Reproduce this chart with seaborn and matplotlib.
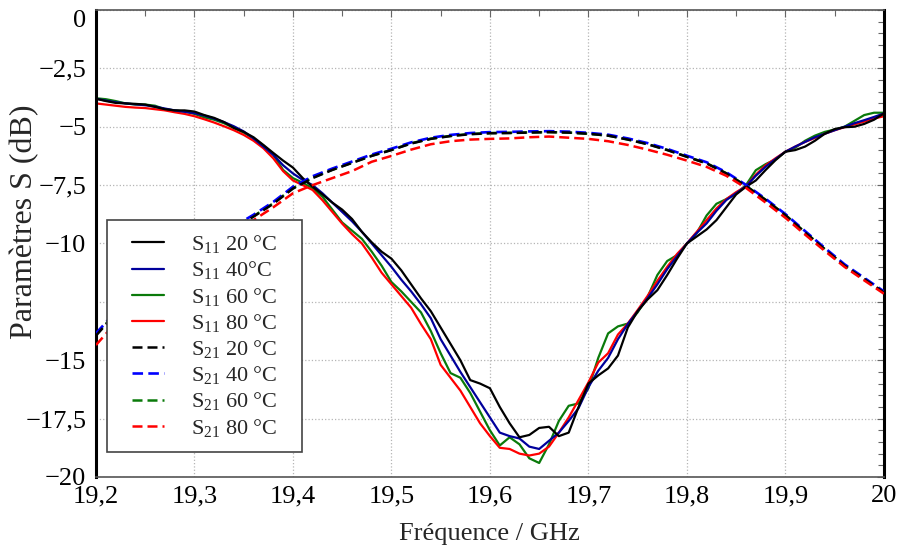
import numpy as np
import pandas as pd
import matplotlib
matplotlib.use("Agg")
import matplotlib.pyplot as plt
import seaborn as sns
from matplotlib.ticker import MultipleLocator
from matplotlib.lines import Line2D
from matplotlib.legend_handler import HandlerLine2D

# ==========================================
# 1. DATA
# ==========================================
freq_s11 = [19.20, 19.21, 19.22, 19.23, 19.24, 19.25, 19.26, 19.27, 19.28, 19.29,
            19.30, 19.31, 19.32, 19.33, 19.34, 19.35, 19.36, 19.37, 19.38, 19.39,
            19.40, 19.41, 19.42, 19.43, 19.44, 19.45, 19.46, 19.47, 19.48, 19.49,
            19.50, 19.51, 19.52, 19.53, 19.54, 19.55, 19.56, 19.57, 19.58, 19.59,
            19.60, 19.61, 19.62, 19.63, 19.64, 19.65, 19.66, 19.67, 19.68, 19.69,
            19.70, 19.71, 19.72, 19.73, 19.74, 19.75, 19.76, 19.77, 19.78, 19.79,
            19.80, 19.81, 19.82, 19.83, 19.84, 19.85, 19.86, 19.87, 19.88, 19.89,
            19.90, 19.91, 19.92, 19.93, 19.94, 19.95, 19.96, 19.97, 19.98, 19.99,
            20.00]

s11_20 = [-3.80, -3.90, -3.98, -4.00, -4.02, -4.05, -4.15, -4.25, -4.30, -4.30,
          -4.35, -4.50, -4.62, -4.80, -5.05, -5.22, -5.45, -5.78, -6.12, -6.45,
          -6.75, -7.20, -7.57, -7.90, -8.25, -8.55, -8.95, -9.50, -9.95, -10.35,
          -10.65, -11.15, -11.75, -12.35, -12.90, -13.60, -14.30, -15.00, -15.85, -16.00,
          -16.20, -17.00, -17.70, -18.30, -18.20, -17.90, -17.85, -18.25, -18.10, -17.00,
          -16.00, -15.65, -15.35, -14.80, -13.60, -12.90, -12.40, -12.00, -11.35, -10.65,
          -10.00, -9.70, -9.40, -9.00, -8.45, -7.90, -7.57, -7.30, -6.85, -6.43,
          -6.07, -6.00, -5.85, -5.60, -5.30, -5.10, -5.02, -5.00, -4.88, -4.70,
          -4.43]

s11_40 = [-3.80, -3.88, -3.95, -4.00, -4.04, -4.08, -4.14, -4.22, -4.30, -4.36,
          -4.42, -4.52, -4.65, -4.80, -4.98, -5.20, -5.50, -5.85, -6.20, -6.65,
          -7.00, -7.28, -7.50, -7.85, -8.25, -8.65, -9.05, -9.50, -10.00, -10.50,
          -11.00, -11.55, -12.05, -12.60, -13.20, -14.10, -14.80, -15.50, -16.15, -16.80,
          -17.45, -18.10, -18.25, -18.35, -18.70, -18.80, -18.45, -18.10, -17.60, -17.05,
          -16.15, -15.45, -14.90, -14.10, -13.45, -12.90, -12.35, -11.75, -11.10, -10.55,
          -10.00, -9.55, -9.14, -8.60, -8.14, -7.85, -7.55, -7.10, -6.71, -6.38,
          -6.07, -5.85, -5.65, -5.45, -5.30, -5.15, -5.00, -4.85, -4.72, -4.58,
          -4.43]

s11_60 = [-3.78, -3.82, -3.90, -4.00, -4.05, -4.05, -4.10, -4.25, -4.30, -4.35,
          -4.45, -4.60, -4.70, -4.85, -5.05, -5.25, -5.50, -5.80, -6.20, -6.85,
          -7.20, -7.40, -7.64, -8.00, -8.55, -9.10, -9.45, -9.80, -10.35, -10.95,
          -11.65, -12.05, -12.50, -12.95, -13.75, -14.70, -15.55, -15.75, -16.40, -17.20,
          -18.00, -18.65, -18.30, -18.60, -19.20, -19.40, -18.60, -17.60, -16.95, -16.85,
          -16.20, -14.90, -13.85, -13.55, -13.43, -12.95, -12.30, -11.35, -10.75, -10.50,
          -10.00, -9.55, -8.80, -8.30, -8.10, -7.86, -7.50, -6.86, -6.60, -6.40,
          -6.07, -5.90, -5.60, -5.38, -5.22, -5.12, -5.00, -4.75, -4.50, -4.40,
          -4.40]

s11_80 = [-4.00, -4.05, -4.10, -4.15, -4.18, -4.20, -4.25, -4.30, -4.38, -4.45,
          -4.55, -4.68, -4.82, -4.98, -5.15, -5.35, -5.60, -5.92, -6.35, -6.90,
          -7.30, -7.50, -7.71, -8.15, -8.65, -9.15, -9.60, -10.00, -10.60, -11.25,
          -11.75, -12.25, -12.75, -13.45, -14.10, -15.20, -15.75, -16.30, -17.00, -17.70,
          -18.25, -18.75, -18.80, -19.00, -19.08, -19.00, -18.70, -18.10, -17.45, -16.70,
          -15.95, -15.10, -14.70, -13.90, -13.43, -12.85, -12.25, -11.60, -11.00, -10.45,
          -10.00, -9.50, -9.00, -8.50, -8.10, -7.80, -7.55, -7.05, -6.65, -6.35,
          -6.07, -5.85, -5.65, -5.48, -5.30, -5.15, -5.02, -4.90, -4.78, -4.65,
          -4.55]

freq_s21 = [19.20, 19.22, 19.24, 19.26, 19.28, 19.30, 19.32, 19.34, 19.36, 19.38,
            19.40, 19.42, 19.44, 19.46, 19.48, 19.50, 19.52, 19.54, 19.56, 19.58,
            19.60, 19.62, 19.64, 19.66, 19.68, 19.70, 19.72, 19.74, 19.76, 19.78,
            19.80, 19.82, 19.84, 19.86, 19.88, 19.90, 19.92, 19.94, 19.96, 19.98,
            20.00]

s21_20 = [-13.95, -13.00, -12.25, -11.60, -11.00, -10.45, -9.90, -9.35, -8.85, -8.30,
          -7.65, -7.20, -6.85, -6.55, -6.25, -6.00, -5.72, -5.52, -5.40, -5.32,
          -5.28, -5.27, -5.25, -5.23, -5.25, -5.30, -5.38, -5.55, -5.75, -6.00,
          -6.29, -6.57, -7.00, -7.54, -8.14, -8.79, -9.53, -10.25, -10.95, -11.52,
          -12.10]

s21_40 = [-13.85, -12.92, -12.17, -11.52, -10.92, -10.37, -9.82, -9.27, -8.77, -8.22,
          -7.57, -7.12, -6.79, -6.49, -6.19, -5.94, -5.67, -5.47, -5.35, -5.27,
          -5.23, -5.22, -5.20, -5.19, -5.21, -5.26, -5.34, -5.50, -5.70, -5.95,
          -6.24, -6.52, -6.95, -7.49, -8.09, -8.74, -9.47, -10.19, -10.89, -11.47,
          -12.05]

s21_60 = [-13.90, -12.98, -12.22, -11.58, -10.98, -10.43, -9.88, -9.33, -8.83, -8.28,
          -7.63, -7.18, -6.84, -6.54, -6.24, -5.99, -5.71, -5.51, -5.39, -5.31,
          -5.27, -5.26, -5.24, -5.23, -5.25, -5.30, -5.38, -5.54, -5.74, -5.99,
          -6.28, -6.56, -6.99, -7.53, -8.13, -8.78, -9.52, -10.24, -10.94, -11.51,
          -12.09]

s21_80 = [-14.35, -13.40, -12.60, -11.95, -11.35, -10.80, -10.25, -9.65, -9.00, -8.45,
          -7.85, -7.50, -7.20, -6.90, -6.50, -6.25, -5.98, -5.75, -5.62, -5.55,
          -5.52, -5.50, -5.45, -5.42, -5.47, -5.52, -5.62, -5.78, -5.98, -6.20,
          -6.45, -6.72, -7.10, -7.62, -8.25, -8.90, -9.62, -10.32, -11.00, -11.58,
          -12.15]

x_ticks = [19.2, 19.3, 19.4, 19.5, 19.6, 19.7, 19.8, 19.9, 20.0]
x_tick_labels = ["19,2", "19,3", "19,4", "19,5", "19,6", "19,7", "19,8", "19,9", "20"]
y_ticks = [0, -2.5, -5, -7.5, -10, -12.5, -15, -17.5, -20]
y_tick_labels = ["0", "\u22122,5", "\u22125", "\u22127,5", "\u221210", "",
                 "\u221215", "\u221217,5", "\u221220"]

# ==========================================
# 2. STYLE
# ==========================================
sns.set_theme(style="white")
plt.rcParams['font.family'] = ['Liberation Serif', 'DejaVu Serif']
plt.rcParams['mathtext.fontset'] = 'custom'
plt.rcParams['mathtext.rm'] = 'Liberation Serif'
plt.rcParams['mathtext.default'] = 'regular'

dash = (0, (4, 2))
# (x, y, label, colour, linestyle, linewidth, zorder)
series = [
    (freq_s11, s11_20, "S$_{11}$ 20 °C", "black", "-", 1.6, 2.6),
    (freq_s11, s11_40, "S$_{11}$ 40°C", "#00009c", "-", 1.6, 2.5),
    (freq_s11, s11_60, "S$_{11}$ 60 °C", "#0a7a0a", "-", 1.6, 2.3),
    (freq_s11, s11_80, "S$_{11}$ 80 °C", "#ff0000", "-", 1.6, 2.4),
    (freq_s21, s21_20, "S$_{21}$ 20 °C", "black", dash, 1.8, 2.9),
    (freq_s21, s21_40, "S$_{21}$ 40 °C", "#0000ff", dash, 1.9, 2.8),
    (freq_s21, s21_60, "S$_{21}$ 60 °C", "#0a7a0a", dash, 1.8, 2.7),
    (freq_s21, s21_80, "S$_{21}$ 80 °C", "#ff0000", dash, 1.8, 3.0),
]

# ==========================================
# 3. PLOT
# ==========================================
fig = plt.figure(figsize=(9.01, 5.46), dpi=100)
ax = fig.add_axes([0.1065, 0.1264, 0.8745, 0.8553])

for fx, fy, lab, col, ls, lw, z in series:
    df = pd.DataFrame({"f": fx, "s": fy})
    sns.lineplot(data=df, x="f", y="s", color=col, linestyle=ls,
                 linewidth=lw, label=lab, zorder=z, ax=ax)

ax.set_xlim(19.2, 20.0)
ax.set_ylim(-20, 0)
ax.set_xticks(x_ticks)
ax.set_xticklabels(x_tick_labels)
ax.set_yticks(y_ticks)
ax.set_yticklabels(y_tick_labels)
ax.get_yticklabels()[0].set_va('top')
ax.xaxis.set_minor_locator(MultipleLocator(0.05))
ax.yaxis.set_minor_locator(MultipleLocator(0.5))
ax.tick_params(which='both', direction='in', top=True, right=True,
               colors='#666666', labelcolor='black', labelsize=19)
ax.tick_params(which='major', length=5, width=0.8)
ax.tick_params(which='minor', length=4, width=0.8)
ax.tick_params(axis='y', pad=7)
ax.tick_params(axis='x', pad=6)

ax.grid(True, which='major', color='#b5b5b5', linestyle=':', linewidth=0.9)

for side in ['left', 'right']:
    ax.spines[side].set_color('black')
    ax.spines[side].set_linewidth(2.2)
for side in ['top', 'bottom']:
    ax.spines[side].set_color('#555555')
    ax.spines[side].set_linewidth(1.2)

ax.set_xlabel("Fréquence / GHz", fontsize=19, labelpad=11)
ax.set_ylabel("Paramètres S (dB)", fontsize=23)
ax.yaxis.set_label_coords(-0.072, 0.546)

leg = ax.legend(loc='lower left', bbox_to_anchor=(0.014, 0.0535, 0.2475, 0.4),
                mode='expand', fontsize=16,
                frameon=True, fancybox=False, framealpha=1, edgecolor='#444444',
                handlelength=1.97, handletextpad=1.2, labelspacing=0.19,
                borderpad=0.6, borderaxespad=0.0,
                handler_map={Line2D: HandlerLine2D(xpad=0.51)})
leg.get_frame().set_linewidth(1.2)
leg.set_zorder(5)

fig.savefig("out.png", dpi=100)
plt.close(fig)
